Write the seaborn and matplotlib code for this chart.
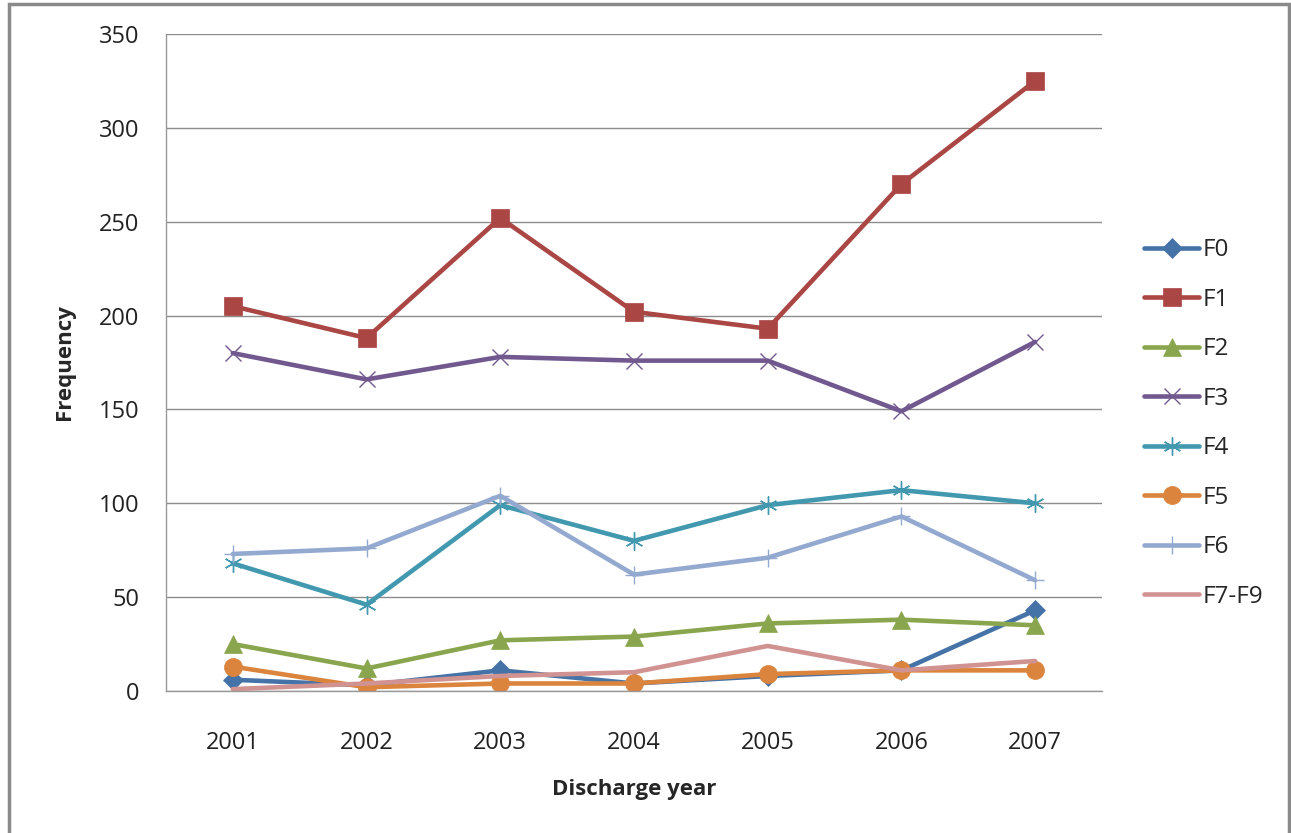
import numpy as np
import pandas as pd
import matplotlib
matplotlib.use("Agg")
import matplotlib.pyplot as plt
import seaborn as sns
from matplotlib.patches import Rectangle
from matplotlib.ticker import MultipleLocator

years = ["2001", "2002", "2003", "2004", "2005", "2006", "2007"]
series_names = ["F0", "F1", "F2", "F3", "F4", "F5", "F6", "F7-F9"]
F0 = [6, 3, 11, 4, 8, 11, 43]
F1 = [205, 188, 252, 202, 193, 270, 325]
F2 = [25, 12, 27, 29, 36, 38, 35]
F3 = [180, 166, 178, 176, 176, 149, 186]
F4 = [68, 46, 99, 80, 99, 107, 100]
F5 = [13, 2, 4, 4, 9, 11, 11]
F6 = [73, 76, 104, 62, 71, 93, 59]
F7_F9 = [1, 4, 8, 10, 24, 11, 16]
values = [F0, F1, F2, F3, F4, F5, F6, F7_F9]

colors = ["#4572A7", "#AA4643", "#89A54E", "#71588F", "#4198AF",
          "#DB843D", "#93A9CF", "#D19392"]
markers = ["D", "s", "^", "x", (6, 2, 0), "o", "+", None]
msizes = [10, 13, 13, 12, 13, 13, 13, 0]

sns.set_theme(style="white")
plt.rcParams['font.family'] = ['Open Sans', 'DejaVu Sans']

fig = plt.figure(figsize=(12.91, 8.33), dpi=100)
ax = fig.add_axes([166/1291, 1-691/833, (1102-166)/1291, (691-34)/833])

idx = np.arange(len(years))
for name, vals, c, m, ms in zip(series_names, values, colors, markers, msizes):
    df = pd.DataFrame({"x": idx, "y": vals})
    kw = dict(color=c, lw=3.3, label=name)
    if m is not None:
        line_art = m in ("x", "+") or isinstance(m, tuple)
        kw.update(marker=m, markersize=ms, mec=c, mfc=c, mew=1.0 if line_art else 0.5)
    sns.lineplot(data=df, x="x", y="y", ax=ax, **kw)

ax.set_xlim(-0.5, len(years) - 0.5)
ax.set_ylim(0, 350)
ax.yaxis.set_major_locator(MultipleLocator(50))
ax.set_xticks(idx)
ax.set_xticklabels(years)
ax.set_xticks(np.arange(-0.5, len(years)), minor=True)
ax.tick_params(axis="x", which="major", length=0, pad=29, labelsize=17, colors="#222222")
ax.tick_params(axis="x", which="minor", length=7, width=1, color="#999999", direction="out")
ax.tick_params(axis="y", which="major", length=8, width=1, color="#999999", direction="out",
               labelsize=17, labelcolor="#222222", pad=11)
ax.grid(axis="y", color="#8c8c8c", lw=1)
ax.grid(axis="x", visible=False)
ax.set_axisbelow(True)
for s in ["top", "right"]:
    ax.spines[s].set_visible(False)
for s in ["left", "bottom"]:
    ax.spines[s].set_color("#999999")
    ax.spines[s].set_linewidth(1)

ax.set_xlabel("Discharge year", fontsize=16, fontweight="bold", labelpad=17)
ax.set_ylabel("Frequency", fontsize=16, fontweight="bold", labelpad=17)

leg = ax.legend(loc="upper left", bbox_to_anchor=(1.035, 0.704), frameon=False,
                fontsize=17.5, handlelength=2.25, handletextpad=0.15, labelspacing=1.05,
                borderaxespad=0)

fig.patches.append(Rectangle((9/1291, -0.01), (1289-9)/1291, 1 - 4/833 + 0.01,
                             transform=fig.transFigure, fill=False,
                             edgecolor="#8a8a8a", lw=2.5))

fig.savefig("out.png", dpi=100)
